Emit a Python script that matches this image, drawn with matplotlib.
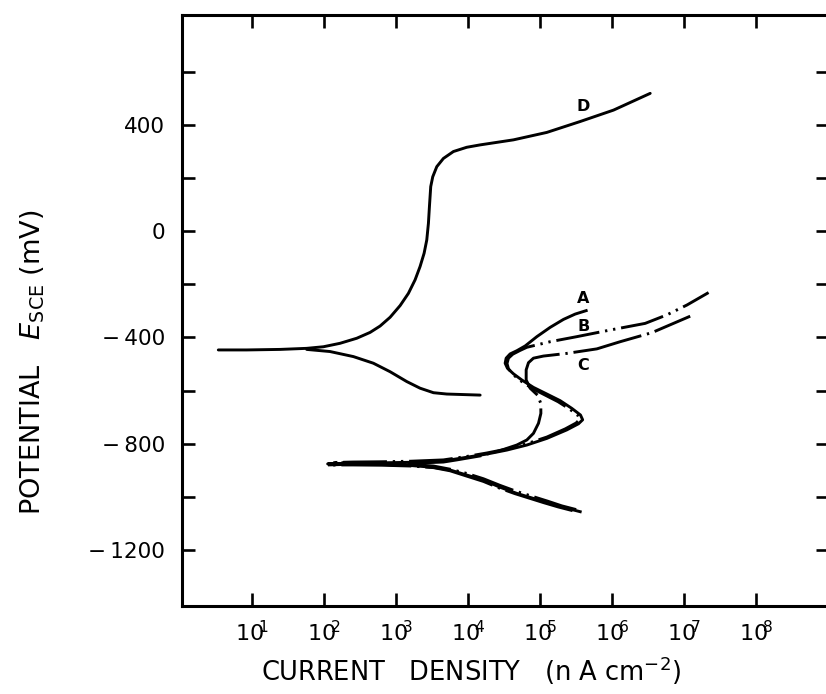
import numpy as np
import matplotlib
matplotlib.use("Agg")
import matplotlib.pyplot as plt

plt.rcParams['font.family'] = ['DejaVu Sans']
plt.rcParams['mathtext.fontset'] = 'dejavusans'

# ---- data: log10 current density (nA cm^-2) and potential (mV vs SCE) ----
d_anodic_logi = [0.532, 0.926, 1.389, 1.759, 1.991, 2.222, 2.454, 2.639, 2.778, 2.917, 3.056, 3.171,
                 3.264, 3.333, 3.389, 3.426, 3.449, 3.463, 3.481, 3.509, 3.565, 3.657, 3.796, 3.981,
                 4.167, 4.630, 5.093, 5.556, 6.019, 6.528]
d_anodic_e = [-447, -447, -445, -441, -435, -422, -403, -381, -357, -324, -280, -234,
              -183, -133, -83, -33, 30, 93, 168, 205, 243, 274, 300, 316,
              325, 344, 372, 413, 456, 519]
d_cathodic_logi = [1.759, 2.083, 2.407, 2.685, 2.917, 3.148, 3.333, 3.519, 3.704, 4.167]
d_cathodic_e = [-445, -453, -472, -497, -529, -566, -591, -608, -613, -617]

a_logi = [5.556, 5.37, 5.139, 4.907, 4.676, 4.444, 4.213, 3.981, 3.75, 3.519, 3.2, 2.8, 2.4, 2.05,
          2.4, 2.8, 3.2, 3.657, 3.981, 4.259, 4.537, 4.815, 5.093, 5.37, 5.532, 5.59, 5.56, 5.44,
          5.278, 5.093, 4.907, 4.745, 4.63, 4.546, 4.514, 4.528, 4.583, 4.676, 4.792, 4.954,
          5.139, 5.324, 5.486, 5.639]
a_e = [-1056, -1043, -1024, -1006, -987, -964, -937, -918, -899, -889, -882, -878, -877, -876,
       -873, -872, -870, -865, -851, -839, -824, -805, -780, -748, -725, -710, -692, -667,
       -638, -613, -588, -560, -537, -516, -497, -478, -462, -450, -432, -397,
       -362, -332, -312, -299]

b_logi = [5.50, 5.30, 5.10, 4.90, 4.676, 4.444, 4.213, 3.981, 3.75, 3.519, 3.2, 2.8, 2.4, 2.1,
          2.4, 2.8, 3.2, 3.657, 3.981, 4.259, 4.537, 4.815, 5.093, 5.35, 5.50, 5.55, 5.52, 5.40,
          5.25, 5.07, 4.89, 4.74, 4.63, 4.56, 4.54, 4.56, 4.62, 4.72, 4.815, 5.139, 5.509,
          5.972, 6.458, 6.759, 7.037, 7.338]
b_e = [-1048, -1034, -1016, -999, -980, -957, -932, -912, -896, -884, -878, -874, -872, -871,
       -869, -868, -866, -861, -848, -835, -820, -800, -775, -744, -722, -708, -692, -668,
       -642, -617, -592, -565, -541, -518, -498, -478, -463, -449, -437, -416, -397,
       -372, -347, -315, -278, -231]

c_logi = [5.45, 5.25, 5.05, 4.85, 4.65, 4.444, 4.213, 3.981, 3.75, 3.519, 3.2, 2.8, 2.4, 2.05,
          2.4, 2.8, 3.2, 3.657, 3.843, 4.167, 4.444, 4.676, 4.815, 4.907, 4.977, 5.01, 5.009,
          4.963, 4.861, 4.806, 4.806, 4.838, 4.907, 5.046, 5.37, 5.787, 6.111, 6.55, 7.083]
c_e = [-1052, -1038, -1022, -1005, -988, -968, -942, -922, -902, -890, -884, -881, -880, -880,
       -877, -876, -874, -869, -861, -846, -826, -805, -786, -761, -723, -686, -648,
       -617, -591, -560, -522, -495, -478, -470, -460, -443, -416, -382, -320]

curve_labels = ['D', 'A', 'B', 'C']
label_logi = [5.60, 5.60, 5.60, 5.60]
label_e = [469, -253, -359, -504]

xtick_exponents = [1, 2, 3, 4, 5, 6, 7, 8]
ytick_values = [-1200, -800, -400, 0, 400]
ytick_labels = ['\u2212\u20091200', '\u2212\u2009800', '\u2212\u2009400', '0', '400']

# ---- figure ----
fig = plt.figure(figsize=(8.26, 6.94), dpi=100)
ax = fig.add_axes([182/826, 88/694, 647/826, 591/694])

lw = 2.1
ax.plot(10**np.array(d_anodic_logi), d_anodic_e, color='black', lw=lw, solid_capstyle='round')
ax.plot(10**np.array(d_cathodic_logi), d_cathodic_e, color='black', lw=lw, solid_capstyle='round')
ax.plot(10**np.array(a_logi), a_e, color='black', lw=lw, solid_joinstyle='round')
ax.plot(10**np.array(b_logi), b_e, color='black', lw=lw, dashes=(15, 2.0, 0.8, 2.0, 0.8, 2.0))
ax.plot(10**np.array(c_logi), c_e, color='black', lw=lw, dashes=(24, 2.0, 0.8, 2.0))

for lab, lx, ly in zip(curve_labels, label_logi, label_e):
    ax.text(10**lx, ly, lab, fontsize=11.5, fontweight='bold', ha='center', va='center')

ax.set_xscale('log')
ax.set_xlim(10**0.028, 10**9.01)
ax.set_ylim(-1411, 814)

ax.set_xticks([10.0**k for k in xtick_exponents])
ax.set_xticklabels([r'$\mathregular{10^{\!\!%d}}$' % k for k in xtick_exponents], fontsize=16)
ax.xaxis.set_minor_locator(matplotlib.ticker.NullLocator())

ax.set_yticks(ytick_values)
ax.set_yticklabels(ytick_labels, fontsize=15.5)
ax.set_yticks(np.arange(-1000, 700, 400), minor=True)

ax.tick_params(which='both', direction='in', length=9.5, width=1.9,
               top=True, right=True, bottom=True, left=True)
ax.tick_params(axis='y', pad=12)
ax.tick_params(axis='x', pad=10)

for s in ax.spines.values():
    s.set_linewidth(2.2)

ax.set_xlabel(r'CURRENT   DENSITY   (n A cm$^{\mathregular{-2}}$)', fontsize=18.5)
ax.xaxis.set_label_coords(0.447, -0.082)
ax.set_ylabel(r'POTENTIAL   $\mathit{E}_{\mathregular{SCE}}$ (mV)', fontsize=19.5)
ax.yaxis.set_label_coords(-0.208, 0.413)

fig.savefig('out.png', dpi=100)
